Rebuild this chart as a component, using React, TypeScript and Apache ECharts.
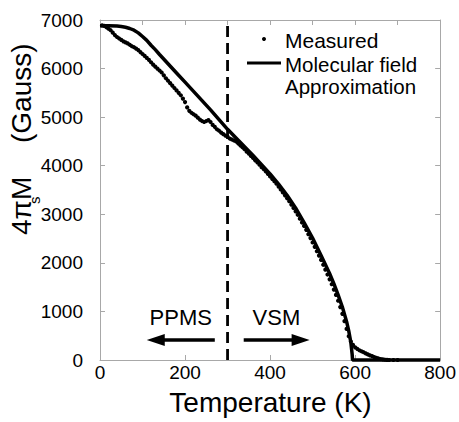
import React, { useEffect, useRef } from "react";
import * as echarts from "echarts";

// Molecular field approximation curve (T in K, 4πMs in Gauss)
const lineT = [0, 20, 40, 50, 60, 70, 80, 90, 100, 110, 120, 130, 140, 160, 180, 200, 220, 240, 260, 280, 300, 320, 340, 360, 380, 400, 420, 440, 460, 480, 500, 520, 540, 550, 560, 570, 580, 585, 590, 593, 594, 800];
const lineM = [6880, 6880, 6875, 6865, 6850, 6825, 6790, 6735, 6660, 6580, 6480, 6390, 6290, 6100, 5910, 5720, 5530, 5340, 5150, 4950, 4750, 4570, 4390, 4210, 4020, 3830, 3620, 3390, 3130, 2830, 2510, 2150, 1780, 1570, 1340, 1090, 790, 600, 360, 120, 0, 0];

// Measured data
const measT = [5, 10, 15, 20, 25, 30, 35, 40, 45, 50, 55, 60, 65, 70, 75, 80, 85, 90, 95, 100, 105, 110, 115, 120, 125, 130, 135, 140, 145, 150, 155, 160, 165, 170, 175, 180, 185, 190, 195, 200, 205, 210, 215, 220, 225, 230, 235, 240, 245, 250, 255, 260, 265, 270, 275, 280, 285, 290, 295, 300, 305, 310, 315, 320, 325, 330, 335, 340, 345, 350, 355, 360, 365, 370, 375, 380, 385, 390, 395, 400, 405, 410, 415, 420, 425, 430, 435, 440, 445, 450, 455, 460, 465, 470, 475, 480, 485, 490, 495, 500, 505, 510, 515, 520, 525, 530, 535, 540, 545, 550, 555, 560, 565, 570, 575, 580, 585, 590, 595, 600, 605, 610, 615, 620, 625, 630, 635, 640, 645, 650, 655, 660, 665, 670, 675, 680, 690, 700];
const measM = [6890, 6880, 6850, 6820, 6790, 6740, 6690, 6650, 6620, 6590, 6560, 6540, 6520, 6490, 6460, 6440, 6410, 6380, 6340, 6300, 6260, 6220, 6180, 6130, 6080, 6040, 6000, 5960, 5920, 5860, 5800, 5750, 5700, 5650, 5600, 5550, 5500, 5450, 5380, 5310, 5200, 5130, 5090, 5060, 5030, 4990, 4950, 4920, 4900, 4920, 4940, 4900, 4840, 4800, 4750, 4720, 4680, 4650, 4620, 4600, 4560, 4540, 4520, 4500, 4460, 4420, 4380, 4340, 4290, 4250, 4200, 4160, 4110, 4070, 4020, 3970, 3930, 3880, 3830, 3780, 3730, 3680, 3630, 3570, 3510, 3450, 3390, 3330, 3270, 3200, 3130, 3060, 2990, 2910, 2830, 2760, 2680, 2590, 2510, 2420, 2330, 2240, 2150, 2060, 1960, 1860, 1760, 1660, 1560, 1450, 1340, 1220, 1090, 950, 800, 640, 490, 380, 310, 260, 230, 200, 180, 160, 135, 115, 95, 80, 60, 45, 32, 20, 12, 6, 2, 0, 0, 0];

// Boundary between PPMS and VSM measurements
const boundaryT = 300;

// Axis ranges
const xRange = [0, 800];
const yRange = [0, 7000];

// Annotation positions in data units
const ppmsLabel = { text: "PPMS", t: 190, m: 875 };
const vsmLabel = { text: "VSM", t: 415, m: 875 };
const leftArrow = { from: 270, to: 110, m: 412 };
const rightArrow = { from: 338, to: 493, m: 412 };

const FONT = "Liberation Sans, Arial, sans-serif";
const GRAY = "#a8a8a8";

export default function App() {
  const ref = useRef<HTMLDivElement>(null);

  useEffect(() => {
    const chart = echarts.init(ref.current!, null, { renderer: "svg" });
    const axisCommon = {
      type: "value",
      axisLine: { show: true, onZero: false, lineStyle: { color: GRAY, width: 1 } },
      axisTick: { show: true, inside: true, length: 5, lineStyle: { color: GRAY } },
      splitLine: { show: false },
    };
    chart.setOption({
      animation: false,
      grid: { left: 100, right: 18, top: 20, bottom: 62 },
      xAxis: [
        {
          ...axisCommon,
          position: "bottom",
          min: xRange[0],
          max: xRange[1],
          interval: 200,
          axisLabel: { color: "#000", fontSize: 19, fontFamily: FONT, margin: 3, formatter: (v: number) => String(v) },
        },
        {
          ...axisCommon,
          position: "top",
          min: xRange[0],
          max: xRange[1],
          interval: 100,
          axisLabel: { show: false },
        },
      ],
      yAxis: [
        {
          ...axisCommon,
          position: "left",
          min: yRange[0],
          max: yRange[1],
          interval: 1000,
          axisLabel: { color: "#000", fontSize: 19, fontFamily: FONT, margin: 17, formatter: (v: number) => String(v) },
        },
        {
          ...axisCommon,
          position: "right",
          min: yRange[0],
          max: yRange[1],
          interval: 1000,
          axisLabel: { show: false },
        },
      ],
      series: [
        {
          name: "Measured",
          type: "scatter",
          data: measT.map((t, i) => [t, measM[i]]),
          symbol: "circle",
          symbolSize: 4.2,
          itemStyle: { color: "#000", opacity: 1 },
          z: 3,
        },
        {
          name: "Molecular field Approximation",
          type: "line",
          data: lineT.map((t, i) => [t, lineM[i]]),
          showSymbol: false,
          symbol: "none",
          lineStyle: { color: "#000", width: 3.5 },
          clip: false,
          z: 4,
        },
        {
          name: "boundary",
          type: "line",
          data: [
            [boundaryT, yRange[0]],
            [boundaryT, yRange[1]],
          ],
          symbol: "none",
          showSymbol: false,
          lineStyle: { color: "#000", width: 2.8, type: [11, 6] },
          clip: false,
          z: 5,
        },
      ],
    });

    const px = (t: number, m: number) =>
      chart.convertToPixel({ xAxisIndex: 0, yAxisIndex: 0 }, [t, m]) as number[];

    const txt = (text: string, x: number, y: number, size: number, align = "left") => ({
      type: "text",
      x,
      y,
      silent: true,
      style: {
        text,
        fill: "#000",
        fontSize: size,
        fontFamily: FONT,
        textAlign: align,
        align,
        textVerticalAlign: "middle",
        verticalAlign: "middle",
      },
    });

    const arrow = (a: { from: number; to: number; m: number }) => {
      const s = px(a.from, a.m);
      const e = px(a.to, a.m);
      const dir = Math.sign(e[0] - s[0]);
      const headLen = 18;
      const headHalf = 6;
      const base = e[0] - dir * headLen;
      return [
        {
          type: "line",
          silent: true,
          shape: { x1: s[0], y1: s[1], x2: base + dir * 1, y2: s[1] },
          style: { stroke: "#000", lineWidth: 3.3 },
        },
        {
          type: "polygon",
          silent: true,
          shape: {
            points: [
              [e[0], e[1]],
              [base, e[1] - headHalf],
              [base, e[1] + headHalf],
            ],
          },
          style: { fill: "#000" },
        },
      ];
    };

    const pp = px(ppmsLabel.t, ppmsLabel.m);
    const vs = px(vsmLabel.t, vsmLabel.m);

    chart.setOption({
      graphic: [
        // annotations
        txt(ppmsLabel.text, pp[0], pp[1], 22, "center"),
        txt(vsmLabel.text, vs[0], vs[1], 22, "center"),
        ...arrow(leftArrow),
        ...arrow(rightArrow),
        // legend
        { type: "circle", silent: true, shape: { cx: 264, cy: 39, r: 2 }, style: { fill: "#000" } },
        txt("Measured", 285, 40.5, 21),
        {
          type: "line",
          silent: true,
          shape: { x1: 247, y1: 63, x2: 281, y2: 63 },
          style: { stroke: "#000", lineWidth: 3 },
        },
        txt("Molecular field", 285, 64, 20.5),
        txt("Approximation", 285, 86, 20.5),
        // axis titles
        txt("Temperature (K)", 270.5, 402, 28, "center"),
        {
          type: "group",
          x: 21,
          y: 235,
          rotation: Math.PI / 2,
          silent: true,
          children: [
            txt("4πM", 0, 0, 28),
            txt("s", 31, 13.5, 15),
            txt("(Gauss)", 92, 0, 28),
          ],
        },
      ],
    });

    return () => chart.dispose();
  }, []);

  return (
    <div
      ref={ref}
      style={{ position: "fixed", left: 0, top: 0, width: 459, height: 422, background: "#fff" }}
    />
  );
}
